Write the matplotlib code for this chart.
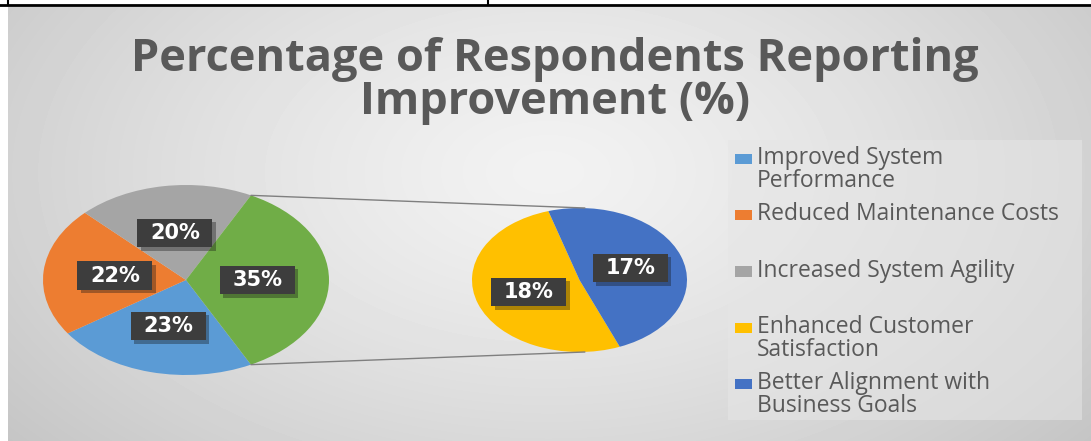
import numpy as np
import matplotlib
matplotlib.use("Agg")
import matplotlib.pyplot as plt
from matplotlib.patches import Rectangle, ConnectionPatch, Wedge
from matplotlib.lines import Line2D
from matplotlib.path import Path
from matplotlib.legend_handler import HandlerBase
import matplotlib.patheffects as pe

# ---- data -----------------------------------------------------------------
title = "Percentage of Respondents Reporting\nImprovement (%)"
categories = ["Improved System Performance", "Reduced Maintenance Costs",
              "Increased System Agility", "Enhanced Customer Satisfaction",
              "Better Alignment with Business Goals"]
legend_labels = ["Improved System\nPerformance", "Reduced Maintenance Costs\n",
                 "Increased System Agility\n", "Enhanced Customer\nSatisfaction",
                 "Better Alignment with\nBusiness Goals"]
values = [23, 22, 20, 18, 17]
colors = ["#5B9BD5", "#ED7D31", "#A5A5A5", "#FFC000", "#4472C4"]
other_color = "#70AD47"
n_primary = 3  # the remaining categories are broken out into the second pie

# ---- figure ---------------------------------------------------------------
W, H = 1091, 441
fig = plt.figure(figsize=(W / 100, H / 100), dpi=100)
fig.patch.set_facecolor("white")

# soft radial grey background of the chart area
bg = fig.add_axes([8 / W, 0, 1 - 8 / W, (H - 7) / H])
yy, xx = np.mgrid[0:H - 7, 0:W - 8]
r = np.sqrt(((xx - 540) / 700.0) ** 2 + ((yy - 165) / 420.0) ** 2)
shade = np.clip(242 - 45 * r ** 1.3, 0, 255) / 255.0
bg.imshow(shade, cmap="gray", vmin=0, vmax=1, aspect="auto",
          extent=(0, 1, 0, 1), interpolation="bilinear")
bg.set_axis_off()

# thin table border above the chart
fig.add_artist(Line2D([0, 1], [1 - 5 / H] * 2, color="black", lw=2,
                      transform=fig.transFigure))
for xv in (7.5, 487.5):
    fig.add_artist(Line2D([xv / W] * 2, [1 - 5 / H, 1], color="black", lw=1.5,
                          transform=fig.transFigure))

# ---- pies -----------------------------------------------------------------
primary = values[:n_primary] + [sum(values[n_primary:])]
primary_colors = colors[:n_primary] + [other_color]
secondary = values[n_primary:]
secondary_colors = colors[n_primary:]

other_angle = 360.0 * primary[-1] / sum(primary)


def label_box(x0, y0, width, height, mutation_size):
    px, py = 0.6 * mutation_size, 0.2 * mutation_size
    x0, y0 = x0 - px, y0 - py
    x1, y1 = x0 + width + 2 * px, y0 + height + 2 * py
    return Path([(x0, y0), (x1, y0), (x1, y1), (x0, y1), (x0, y0)], closed=True)


def style_labels(texts):
    for t in texts:
        t.set_color("white")
        t.set_fontweight("bold")
        t.set_fontsize(15)
        t.set_family("DejaVu Sans")
        t.set_bbox(dict(boxstyle=label_box, facecolor="#3d3d3d", edgecolor="none"))
        t.get_bbox_patch().set_path_effects(
            [pe.SimplePatchShadow(offset=(2.5, -2.5), alpha=0.35), pe.Normal()])


ax1 = fig.add_axes([43 / W, 66 / H, 286 / W, 190 / H])
w1, _, at1 = ax1.pie(primary, colors=primary_colors, startangle=-other_angle / 2,
                     counterclock=False, autopct=lambda p: f"{p:.0f}%",
                     pctdistance=0.5, wedgeprops=dict(linewidth=0))
ax1.set_aspect("auto")
ax1.set_xlim(-1, 1)
ax1.set_ylim(-1, 1)
style_labels(at1)

ax2 = fig.add_axes([472 / W, 89 / H, 215 / W, 144 / H])
sec_total = sum(secondary)
w2, _, at2 = ax2.pie(secondary, colors=secondary_colors, startangle=-68,
                     counterclock=False,
                     autopct=lambda p: f"{p * sec_total / 100:.0f}%",
                     pctdistance=0.5, wedgeprops=dict(linewidth=0))
ax2.set_aspect("auto")
ax2.set_xlim(-1, 1)
ax2.set_ylim(-1, 1)
style_labels(at2)

# connector lines from the "other" slice to the secondary pie
half = np.deg2rad(other_angle / 2)
for sgn in (1, -1):
    con = ConnectionPatch(xyA=(np.cos(half), sgn * np.sin(half)), coordsA=ax1.transData,
                          xyB=(0.05, sgn * 1.0), coordsB=ax2.transData,
                          color="#7f7f7f", lw=1.0)
    fig.add_artist(con)

# ---- title ----------------------------------------------------------------
fig.text(555 / W, 1 - 81 / H, title, ha="center", va="center", fontsize=32.5,
         fontweight="bold", family="Open Sans", color="#595959", linespacing=0.95)

# ---- legend ---------------------------------------------------------------
fig.add_artist(Rectangle((728 / W, 1 - 420 / H), 354 / W, 280 / H,
                         transform=fig.transFigure, facecolor="#e6e6e6",
                         edgecolor="none", alpha=0.55, zorder=1))


class FirstLineSquare(HandlerBase):
    def create_artists(self, legend, orig_handle, xdescent, ydescent, width,
                       height, fontsize, trans):
        sq_h = 0.45 * fontsize
        lift = 0.5 * fontsize
        y0 = -ydescent + (height - sq_h) / 2 + lift
        rect = Rectangle((-xdescent, y0), width, sq_h,
                         facecolor=orig_handle.get_facecolor(), edgecolor="none",
                         transform=trans)
        return [rect]


leg = fig.legend(handles=list(w1[:n_primary]) + list(w2), labels=legend_labels,
                 loc="upper left", bbox_to_anchor=(735 / W, 1 - 146 / H),
                 bbox_transform=fig.transFigure, frameon=False,
                 handler_map={Wedge: FirstLineSquare()},
                 prop=dict(family="Open Sans", size=16.5),
                 handlelength=0.75, handleheight=0.45, handletextpad=0.22,
                 labelspacing=0.42, borderpad=0, borderaxespad=0)
for t in leg.get_texts():
    t.set_color("#595959")
    t.set_linespacing(0.93)

fig.savefig("out.png", dpi=100)
